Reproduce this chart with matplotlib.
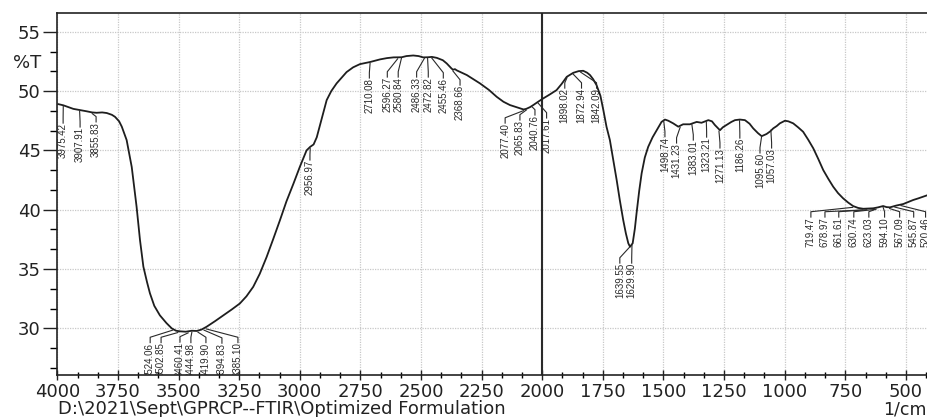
import matplotlib
matplotlib.use("Agg")
import matplotlib.pyplot as plt
from matplotlib.ticker import MultipleLocator, AutoMinorLocator

# spectrum (wavenumber 1/cm, %T)
wavenumber = [
    3996, 3975, 3950, 3934, 3907, 3880, 3856, 3838, 3815, 3796, 3775, 3762, 3745, 3734,
    3714, 3693, 3673, 3659, 3645, 3630, 3618, 3600, 3577, 3550, 3528, 3510, 3494, 3470,
    3445, 3425, 3405, 3384, 3350, 3315, 3280, 3247, 3220, 3192, 3165, 3137, 3110, 3082,
    3055, 3026, 3000, 2972, 2957, 2943, 2930, 2917, 2889, 2870, 2848, 2807, 2780, 2752,
    2710, 2669, 2640, 2613, 2580, 2560, 2532, 2510, 2491, 2472, 2455, 2435, 2410, 2394,
    2374, 2368, 2360, 2353, 2311, 2257, 2220, 2188, 2160, 2133, 2100, 2077, 2066, 2050,
    2037, 2017, 1996, 1970, 1941, 1920, 1899, 1872, 1850, 1831, 1815, 1803, 1790, 1776,
    1760, 1748, 1735, 1721, 1707, 1693, 1680, 1666, 1655, 1645, 1638, 1627, 1618, 1611,
    1600, 1590, 1577, 1563, 1545, 1528, 1508, 1494, 1480, 1460, 1439, 1419, 1405, 1391,
    1363, 1343, 1315, 1300, 1288, 1267, 1255, 1240, 1220, 1205, 1185, 1164, 1145, 1130,
    1110, 1095, 1075, 1060, 1047, 1033, 1020, 999, 985, 965, 945, 924, 903, 882, 862,
    841, 820, 800, 780, 759, 738, 718, 697, 676, 655, 635, 615, 594, 580, 566, 540, 511,
    490, 470, 450, 429, 409,
]
transmittance = [
    48.90, 48.80, 48.62, 48.50, 48.40, 48.30, 48.20, 48.17, 48.20, 48.15, 48.00, 47.83, 47.45, 47.00,
    45.87, 43.60, 40.25, 37.45, 35.20, 33.90, 32.96, 31.90, 31.10, 30.45, 30.00, 29.80, 29.75, 29.72,
    29.80, 29.78, 29.90, 30.14, 30.60, 31.10, 31.60, 32.10, 32.70, 33.50, 34.60, 36.00, 37.50, 39.10,
    40.70, 42.20, 43.60, 45.00, 45.30, 45.50, 46.10, 47.10, 49.24, 50.00, 50.65, 51.60, 52.00, 52.27,
    52.45, 52.67, 52.78, 52.84, 52.85, 52.95, 53.00, 52.95, 52.84, 52.85, 52.88, 52.80, 52.60, 52.33,
    51.90, 51.80, 51.85, 51.75, 51.35, 50.65, 50.10, 49.52, 49.10, 48.82, 48.60, 48.45, 48.50, 48.65,
    48.82, 49.10, 49.38, 49.70, 50.08, 50.60, 51.20, 51.54, 51.68, 51.71, 51.55, 51.35, 51.00, 50.50,
    49.60, 48.40, 47.00, 45.87, 44.20, 42.50, 40.80, 39.13, 38.00, 37.17, 36.88, 37.17, 38.40, 39.70,
    41.60, 43.07, 44.40, 45.30, 46.10, 46.70, 47.40, 47.60, 47.50, 47.28, 47.00, 47.20, 47.20, 47.20,
    47.40, 47.33, 47.55, 47.45, 47.14, 46.70, 46.95, 47.14, 47.40, 47.55, 47.60, 47.55, 47.25, 46.86,
    46.45, 46.20, 46.38, 46.60, 46.86, 47.05, 47.28, 47.50, 47.45, 47.28, 46.95, 46.57, 45.90, 45.17, 44.30,
    43.34, 42.60, 41.94, 41.40, 40.96, 40.60, 40.31, 40.15, 40.08, 40.10, 40.12, 40.20, 40.31, 40.22, 40.20, 40.35, 40.48,
    40.65, 40.82, 40.95, 41.10, 41.24,
]

# picked peaks: label text, peak position on the curve
peak_labels = [
    "3975.42", "3907.91", "3855.83", "2956.97",
    "3524.06", "3502.85", "3460.41", "3444.98", "3419.90", "3394.83", "3385.10",
    "2710.08", "2596.27", "2580.84", "2486.33", "2472.82", "2455.46", "2368.66",
    "2077.40", "2065.83", "2040.76", "2017.61",
    "1898.02", "1872.94", "1842.09",
    "1639.55", "1629.90",
    "1498.74", "1431.23", "1383.01", "1323.21", "1271.13", "1186.26", "1095.60", "1057.03",
    "719.47", "678.97", "661.61", "630.74", "623.03", "594.10", "567.09", "545.87", "520.46",
]
peak_t = [
    48.80, 48.40, 48.20, 45.25,
    29.95, 29.75, 29.72, 29.78, 29.78, 29.95, 30.05,
    52.42, 52.82, 52.85, 52.85, 52.85, 52.88, 51.80,
    48.45, 48.50, 48.75, 49.10,
    51.22, 51.54, 51.70,
    36.95, 37.10,
    47.55, 47.05, 47.30, 47.50, 46.72, 47.60, 46.22, 46.80,
    40.30, 40.08, 40.10, 40.12, 40.15, 40.30, 40.20, 40.32, 40.45,
]

# where each label column sits (x in 1/cm) and where its text starts (top, %T)
label_x = [
    3976, 3906, 3840, 2958,
    3617, 3572, 3494, 3449, 3387, 3321, 3255,
    2713, 2639, 2594, 2518, 2470, 2408, 2339,
    2153, 2092, 2030, 1982,
    1907, 1838, 1776,
    1680, 1631,
    1494, 1446, 1377, 1322, 1267, 1185, 1102, 1054,
    892, 834, 777, 715, 653, 588, 526, 468, 419,
]
label_top = [
    47.30, 46.97, 47.40, 44.19,
    28.80, 28.80, 28.85, 28.80, 28.80, 28.75, 28.80,
    51.10, 51.18, 51.18, 51.18, 51.18, 51.10, 50.50,
    47.30, 47.56, 47.98, 47.73,
    50.25, 50.25, 50.25,
    35.50, 35.50,
    46.15, 45.62, 45.87, 46.12, 45.20, 46.04, 44.78, 45.20,
    39.38, 39.38, 39.38, 39.38, 39.38, 39.38, 39.38, 39.38, 39.38,
]

plt.rcParams['font.family'] = ['DejaVu Sans']

fig = plt.figure(figsize=(9.28, 4.17), dpi=100)
ax = fig.add_axes([57.3 / 928, 42 / 417, (928 - 57.3) / 928, 362 / 417])

ax.plot(wavenumber, transmittance, color="#1e1e1e", lw=1.3, zorder=3)
ax.axvline(2000, color="#2a2a2a", lw=1.5, zorder=2)

# peak labels with their leader lines
for txt, pt, lx, top in zip(peak_labels, peak_t, label_x, label_top):
    pk = float(txt)
    ax.plot([lx, lx, pk], [top, top + 0.45, pt - 0.1], color="#2a2a2a", lw=0.8,
            zorder=4, clip_on=True)
    ax.text(lx, top, txt, rotation=90, ha="center", va="top", fontsize=7,
            family=["Liberation Sans Narrow", "Liberation Sans"], color="#2a2a2a",
            clip_on=True, zorder=4)

ax.set_xlim(4000, 409)
ax.set_ylim(26.07, 56.58)
ax.xaxis.set_major_locator(MultipleLocator(250))
ax.xaxis.set_minor_locator(AutoMinorLocator(3))
ax.yaxis.set_major_locator(MultipleLocator(5))
ax.yaxis.set_minor_locator(AutoMinorLocator(3))

ax.grid(True, which="major", color="#c8c8c8", linestyle=(0, (1, 1)), lw=0.9, zorder=0)
ax.tick_params(axis="y", which="major", direction="out", length=10, width=1, pad=2,
               labelsize=13, colors="#222222")
ax.tick_params(axis="y", which="minor", direction="out", length=5, width=1)
ax.tick_params(axis="x", which="major", direction="inout", length=7, width=1, pad=2,
               labelsize=13, colors="#222222")
ax.tick_params(axis="x", which="minor", direction="inout", length=4, width=1)
ax.spines["right"].set_visible(False)
for s in ("left", "top", "bottom"):
    ax.spines[s].set_color("#222222")
    ax.spines[s].set_linewidth(1.2)

fig.text(27 / 928, 1 - 63 / 417, "%T", fontsize=13, ha="center", va="center", color="#222222")
fig.text(58 / 928, 1 - 414 / 417, r"D:\2021\Sept\GPRCP--FTIR\Optimized Formulation",
         fontsize=13, ha="left", va="baseline", color="#222222")
fig.text(927 / 928, 1 - 414 / 417, "1/cm", fontsize=12.5, ha="right", va="baseline", color="#222222")

fig.savefig("out.png", dpi=100, facecolor="white")
